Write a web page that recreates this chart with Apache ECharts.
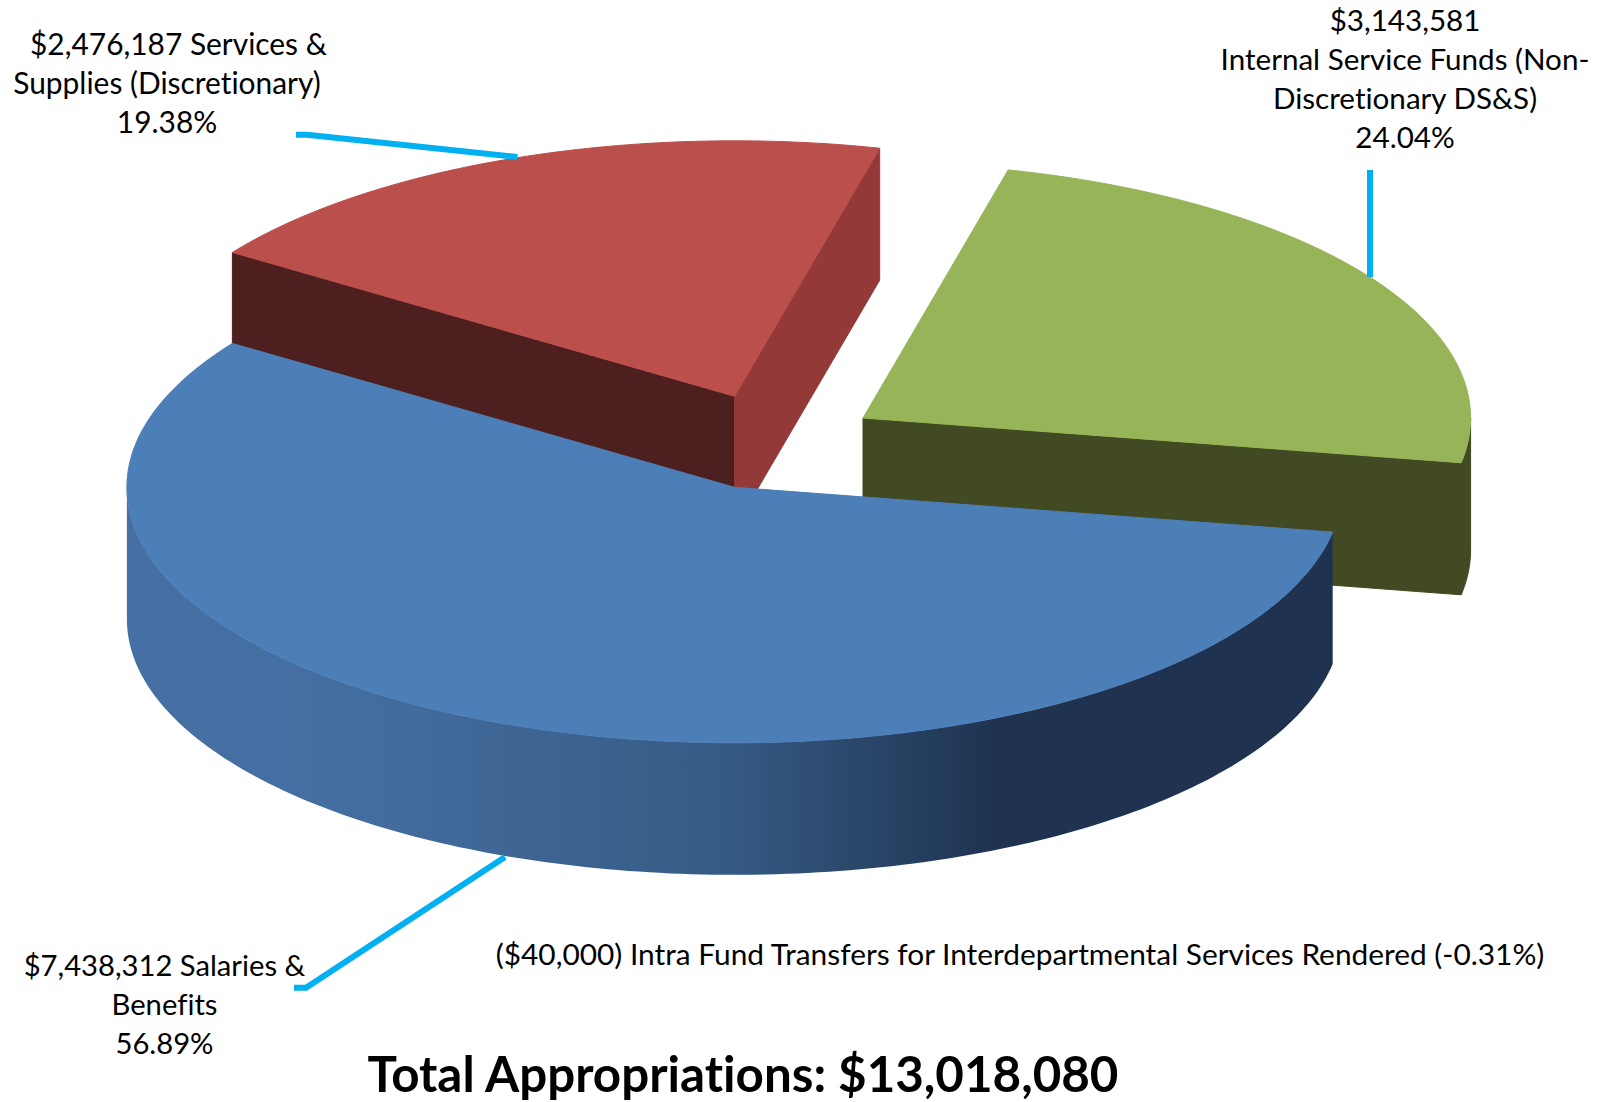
<!DOCTYPE html>
<html>
<head>
<meta charset="utf-8">
<title>Total Appropriations</title>
<style>
  html, body { margin: 0; padding: 0; background: #fff; }
  #chart { width: 1606px; height: 1102px; }
  #chart text { font-variant-ligatures: none; font-feature-settings: "liga" 0, "clig" 0; }
</style>
<script src="https://cdn.jsdelivr.net/npm/echarts@6/dist/echarts.min.js"></script>
</head>
<body>
<div id="chart"></div>
<script>
// Budget categories and their stated shares (the negative transfer gets a label but no slice)
const categories = [
  'Salaries & Benefits',
  'Services & Supplies (Discretionary)',
  'Internal Service Funds (Non-Discretionary DS&S)',
  'Intra Fund Transfers for Interdepartmental Services Rendered'
];
const amounts = [7438312, 2476187, 3143581, -40000];
const percents = [56.89, 19.38, 24.04, -0.31];
const labelTexts = [
  '$7,438,312 Salaries &\nBenefits\n56.89%',
  '   $2,476,187 Services &\nSupplies (Discretionary)\n19.38%',
  '$3,143,581\nInternal Service Funds (Non-\nDiscretionary DS&S)\n24.04%',
  '($40,000) Intra Fund Transfers for Interdepartmental Services Rendered (-0.31%)'
];
const titleText = 'Total Appropriations: $13,018,080';

// Tilted disc geometry
const disc = { cx: 734.5, cy: 487.3, rx: 607.6, ry: 255.5, depth: 132, startDeg: 10.1 };

// Per-slice drawing styles and explode offsets
const sliceStyles = [
  {
    offset: [0, 0], z: 30, top: '#4c7eb8', startFace: '#2f4f78', endFace: '#2f4f78',
    wall: new echarts.graphic.LinearGradient(0, 0, 1, 0, [
      { offset: 0, color: '#4670a5' },
      { offset: 0.2, color: '#446d9f' },
      { offset: 0.5, color: '#355a84' },
      { offset: 0.72, color: '#1f3350' },
      { offset: 1, color: '#1f3350' }
    ])
  },
  { offset: [0, -91], z: 20, top: '#bb4f4c', wall: '#933a38', startFace: '#4e1f1f', endFace: '#933a38' },
  { offset: [128.5, -69.3], z: 10, top: '#97b558', wall: '#414a22', startFace: '#414a22', endFace: '#414a22' },
  null
];

// Leader lines and label anchors for each entry
const leaderPaths = [
  [[505, 857], [306, 987.7], [294, 987.7]],
  [[517.5, 157], [307, 134.7], [296, 134.7]],
  [[1370, 277], [1370, 170]],
  null
];
const labelAnchors = [
  { x: 164.5, y: 1003.5, size: 29.2 },
  { x: 167, y: 82, size: 29.9 },
  { x: 1405, y: 77.5, size: 29.6 },
  { x: 1020, y: 953, size: 29.85 }
];
const labelFont = { family: 'Lato', lineHeight: 39 };
const leaderColor = '#00b0f0';

const positiveTotal = percents.filter(v => v > 0).reduce((a, b) => a + b, 0);
const sweepStart = percents.map((_, i) =>
  percents.slice(0, i).filter(v => v > 0).reduce((a, b) => a + b, 0));

function rimPoint(deg, ox, oy, drop) {
  const r = deg * Math.PI / 180;
  return [disc.cx + ox + disc.rx * Math.cos(r), disc.cy + oy + disc.ry * Math.sin(r) + drop];
}

function arcPoints(from, to, ox, oy, drop) {
  const pts = [];
  const n = Math.max(2, Math.ceil(Math.abs(to - from)));
  for (let k = 0; k <= n; k++) pts.push(rimPoint(from + (to - from) * k / n, ox, oy, drop));
  return pts;
}

function poly(points, fill, z2, seal) {
  const style = { fill: fill };
  if (seal) {
    // Same-colour hairline closes the antialiasing seam between neighbouring faces
    style.stroke = fill;
    style.lineWidth = 1;
    style.lineJoin = 'round';
  }
  return { type: 'polygon', z2: z2, shape: { points: points }, style: style };
}

function renderItem(params, api) {
  const i = params.dataIndex;
  const share = api.value(0);
  const children = [];
  const s = sliceStyles[i];

  if (share > 0 && s) {
    const t0 = disc.startDeg + sweepStart[i] / positiveTotal * 360;
    const t1 = t0 + share / positiveTotal * 360;
    const [ox, oy] = s.offset;
    const apex = [disc.cx + ox, disc.cy + oy];
    const apexLow = [apex[0], apex[1] + disc.depth];

    // Cut faces show only when they turn toward the viewer
    if (Math.cos(t0 * Math.PI / 180) < 0) {
      children.push(poly([apex, rimPoint(t0, ox, oy, 0), rimPoint(t0, ox, oy, disc.depth), apexLow], s.startFace, s.z, true));
    }
    if (Math.cos(t1 * Math.PI / 180) > 0) {
      children.push(poly([apex, rimPoint(t1, ox, oy, 0), rimPoint(t1, ox, oy, disc.depth), apexLow], s.endFace, s.z, true));
    }
    // Outer wall over the front half of the rim
    [[0, 180], [360, 540]].forEach(([a, b]) => {
      const from = Math.max(t0, a);
      const to = Math.min(t1, b);
      if (to > from) {
        children.push(poly(
          arcPoints(from, to, ox, oy, 0).concat(arcPoints(to, from, ox, oy, disc.depth)),
          s.wall, s.z, typeof s.wall === 'string'
        ));
      }
    });
    // Top surface
    children.push(poly([apex].concat(arcPoints(t0, t1, ox, oy, 0)), s.top, s.z + 1, true));
  }

  if (leaderPaths[i]) {
    children.push({
      type: 'polyline', z2: 50,
      shape: { points: leaderPaths[i] },
      style: { stroke: leaderColor, lineWidth: 6, fill: null, lineJoin: 'miter' }
    });
  }

  children.push({
    type: 'text', z2: 60,
    x: labelAnchors[i].x, y: labelAnchors[i].y,
    style: {
      text: labelTexts[i],
      fontFamily: labelFont.family, fontSize: labelAnchors[i].size, lineHeight: labelFont.lineHeight,
      fill: '#000', align: 'center', verticalAlign: 'middle'
    }
  });
  return { type: 'group', children: children };
}

const chart = echarts.init(document.getElementById('chart'), null, { renderer: 'svg' });
chart.setOption({
  animation: false,
  backgroundColor: '#ffffff',
  title: {
    text: titleText, left: 738, top: 1043, textAlign: 'center',
    textStyle: { fontFamily: 'Lato', fontWeight: 'bold', fontSize: 49.3, color: '#000' }
  },
  series: [{
    type: 'custom',
    coordinateSystem: 'none',
    silent: true,
    renderItem: renderItem,
    data: categories.map((name, i) => ({ name: name, value: [percents[i]], amount: amounts[i] }))
  }]
});
</script>
</body>
</html>
